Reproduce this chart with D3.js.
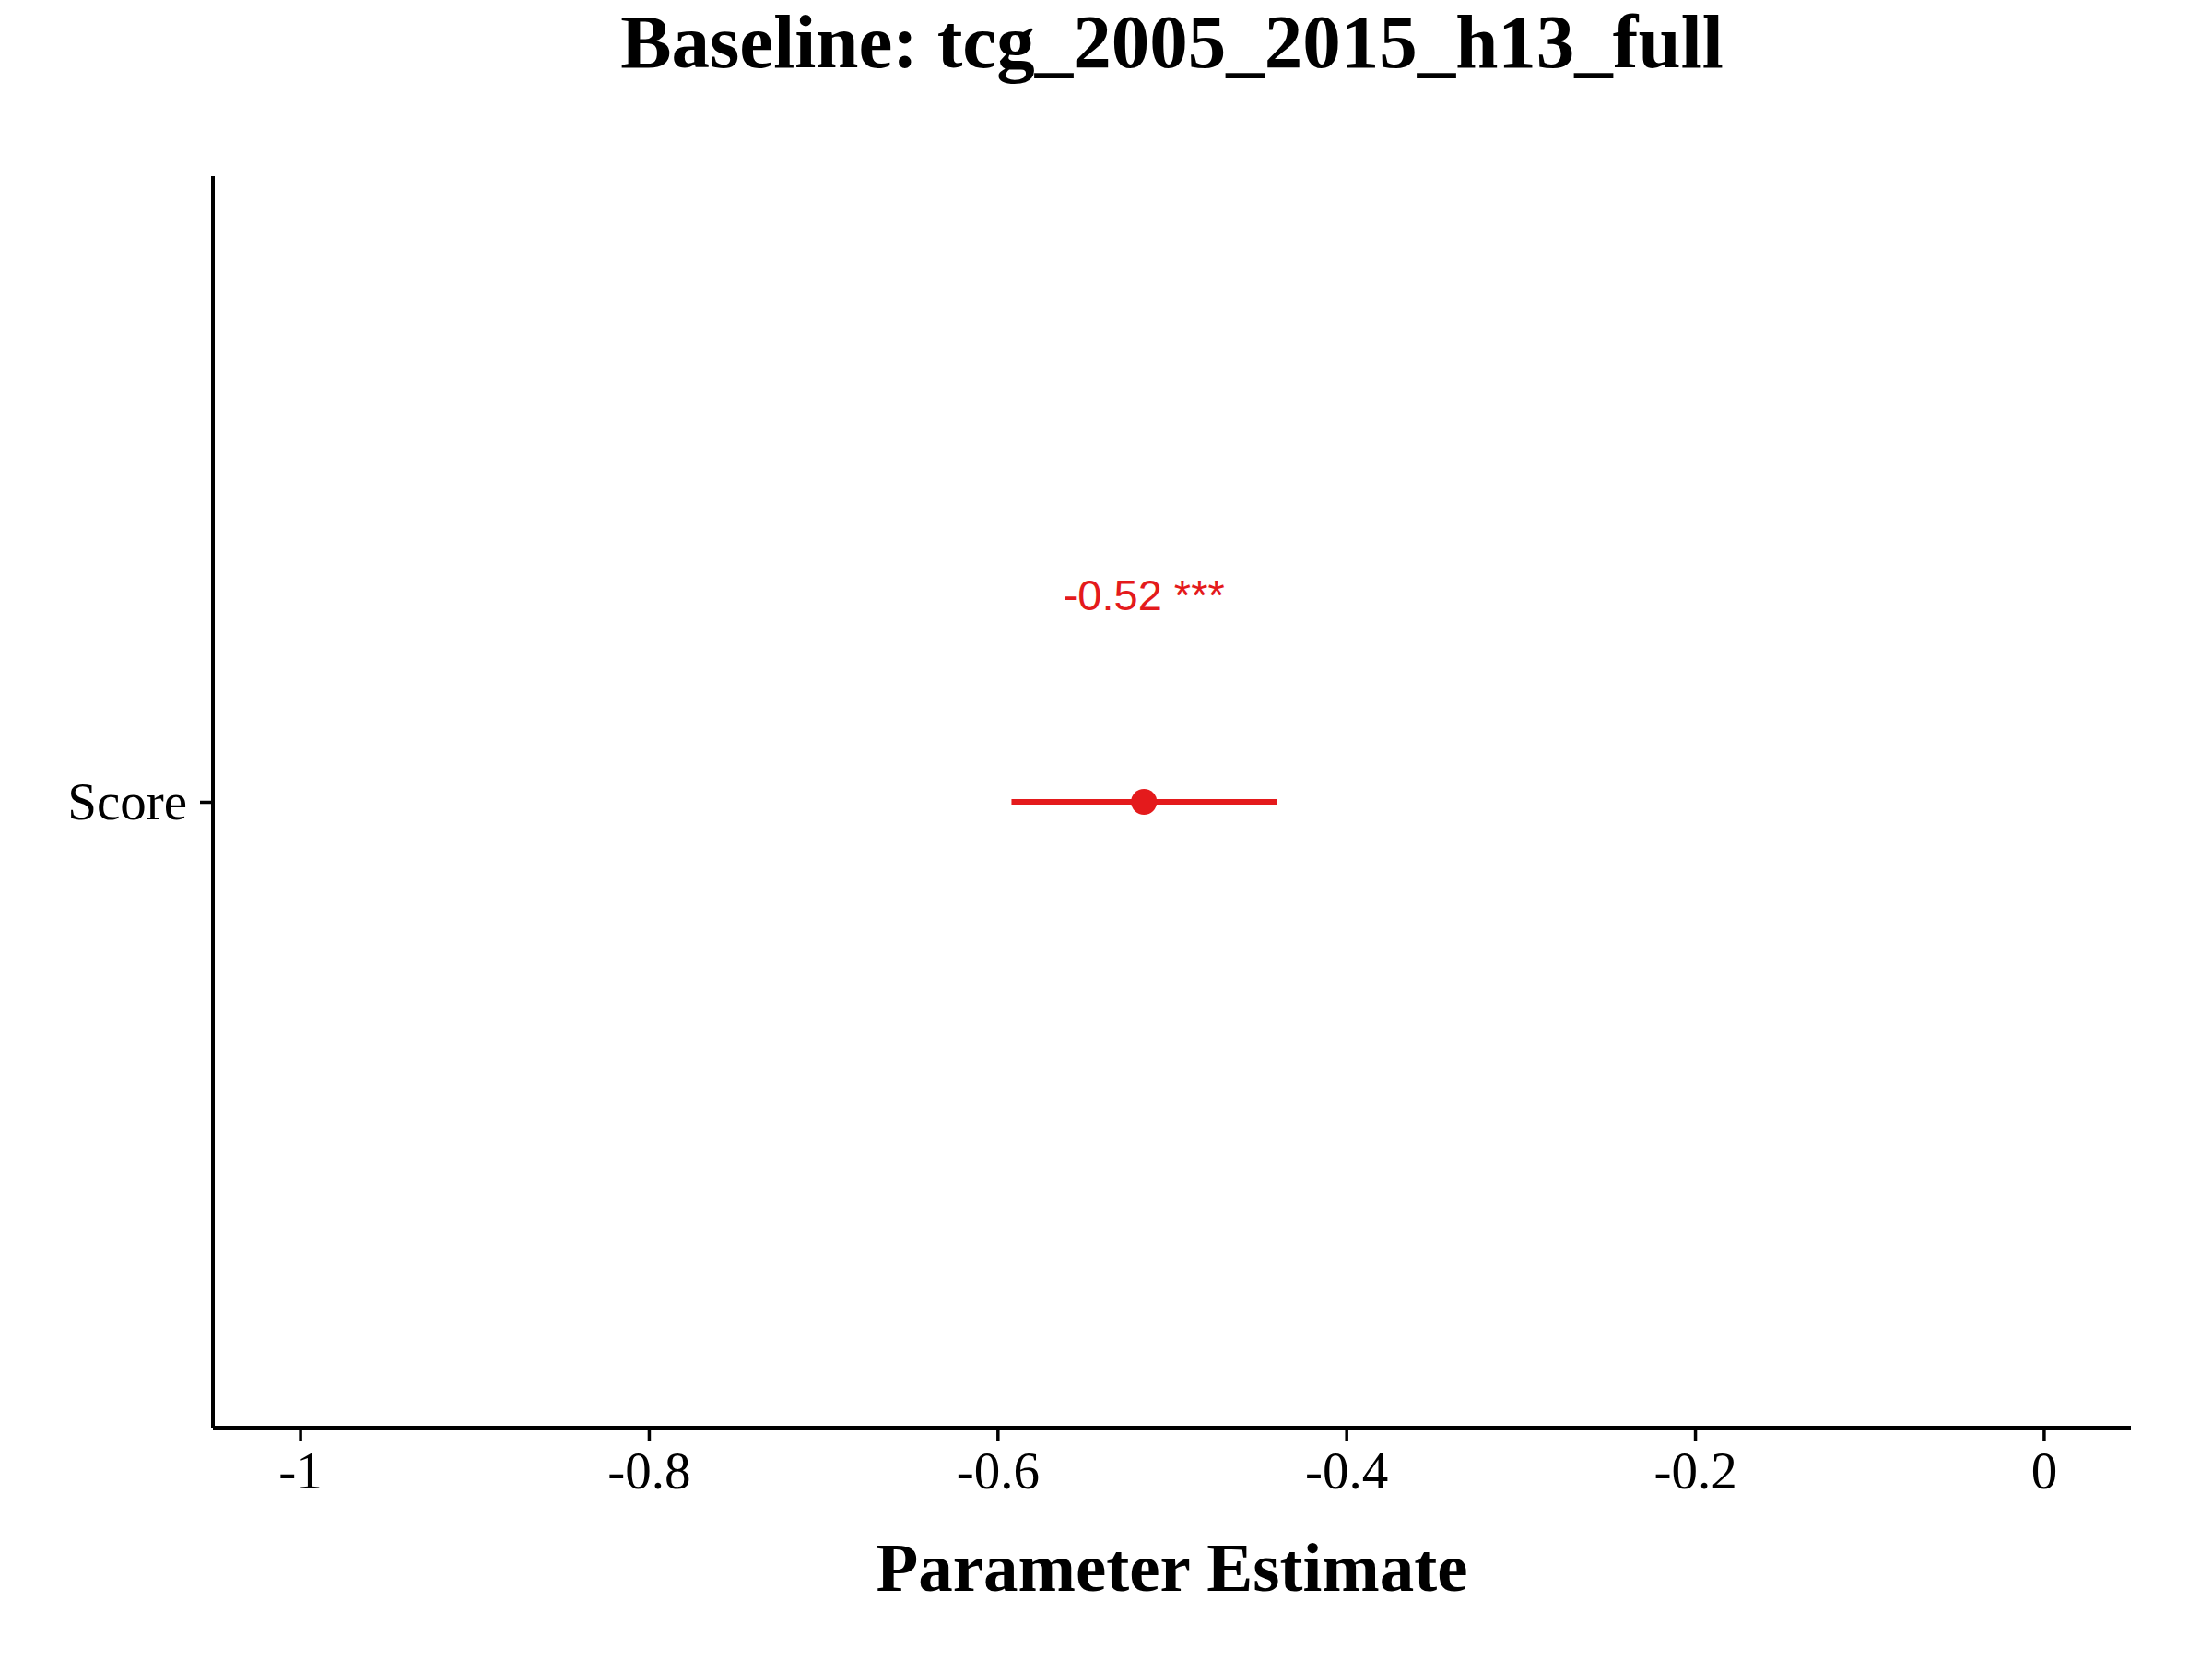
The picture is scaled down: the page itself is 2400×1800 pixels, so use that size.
<!DOCTYPE html>
<html>
<head>
<meta charset="utf-8">
<script src="https://cdn.jsdelivr.net/npm/d3@7"></script>
<style>
  body { margin: 0; background: #fff; }
</style>
</head>
<body>
<div id="chart"></div>
<script>
// data
var terms = ["Score"];
var estimates = [-0.516];
var ciLow = [-0.592];
var ciHigh = [-0.440];
var sigLabels = ["-0.52 ***"];
var xTicks = [-1, -0.8, -0.6, -0.4, -0.2, 0];

var svgWidth = 2400;
var svgHeight = 1800;

var margin = { top: 191, right: 88, bottom: 251, left: 231 };
var width = svgWidth - margin.left - margin.right;
var height = svgHeight - margin.top - margin.bottom;

var red = "#E41A1C";
var serif = "'Liberation Serif', 'Times New Roman', serif";

var svg = d3.select("#chart")
  .append("svg")
  .attr("width", svgWidth)
  .attr("height", svgHeight);

var chartGroup = svg.append("g")
  .attr("transform", `translate(${margin.left}, ${margin.top})`);

// x scale: limits -1..0 with 5% expansion like ggplot
var xScale = d3.scaleLinear()
  .domain([-1.05, 0.05])
  .range([0, width]);

var yScale = d3.scalePoint()
  .domain(terms)
  .range([0, height])
  .padding(0.5);

// plain hyphen for the minus sign, like the reference
var bottomAxis = d3.axisBottom(xScale)
  .tickValues(xTicks)
  .tickSize(14)
  .tickPadding(12)
  .tickFormat(d => String(d));

var leftAxis = d3.axisLeft(yScale)
  .tickSize(14)
  .tickPadding(14);

var xAxis = chartGroup.append("g")
  .attr("transform", `translate(0, ${height})`)
  .call(bottomAxis);

var yAxis = chartGroup.append("g")
  .call(leftAxis);

[xAxis, yAxis].forEach(function(ax) {
  ax.select(".domain")
    .attr("stroke", "#000")
    .attr("stroke-width", 4);
  ax.selectAll(".tick line")
    .attr("stroke", "#000")
    .attr("stroke-width", 3.5);
  ax.selectAll(".tick text")
    .attr("fill", "#000")
    .style("font-family", serif)
    .style("font-size", "57px");
});
// drop the outer ticks of the domain path
xAxis.select(".domain").attr("d", `M0,0H${width}`);
yAxis.select(".domain").attr("d", `M0,0V${height}`);
yAxis.selectAll(".tick text").attr("dy", "0.33em");

// confidence interval
chartGroup.selectAll(".ci")
  .data(terms)
  .enter()
  .append("line")
  .attr("class", "ci")
  .attr("x1", (d, i) => xScale(ciLow[i]))
  .attr("x2", (d, i) => xScale(ciHigh[i]))
  .attr("y1", d => yScale(d))
  .attr("y2", d => yScale(d))
  .attr("stroke", red)
  .attr("stroke-width", 6);

// point estimate
chartGroup.selectAll(".est")
  .data(terms)
  .enter()
  .append("circle")
  .attr("class", "est")
  .attr("cx", (d, i) => xScale(estimates[i]))
  .attr("cy", d => yScale(d))
  .attr("r", 14)
  .attr("fill", red);

// estimate + stars label
chartGroup.selectAll(".lab")
  .data(terms)
  .enter()
  .append("text")
  .attr("class", "lab")
  .attr("x", (d, i) => xScale(estimates[i]))
  .attr("y", d => yScale(d) - 208)
  .attr("text-anchor", "middle")
  .attr("fill", red)
  .style("font-family", "'Liberation Sans', Arial, sans-serif")
  .style("font-size", "47px")
  .text((d, i) => sigLabels[i]);

// title
svg.append("text")
  .attr("x", margin.left + width / 2)
  .attr("y", 73)
  .attr("text-anchor", "middle")
  .style("font-family", serif)
  .style("font-weight", "bold")
  .style("font-size", "83px")
  .text("Baseline: tcg_2005_2015_h13_full");

// x axis title
svg.append("text")
  .attr("x", margin.left + width / 2)
  .attr("y", 1726)
  .attr("text-anchor", "middle")
  .style("font-family", serif)
  .style("font-weight", "bold")
  .style("font-size", "75px")
  .text("Parameter Estimate");
</script>
</body>
</html>
